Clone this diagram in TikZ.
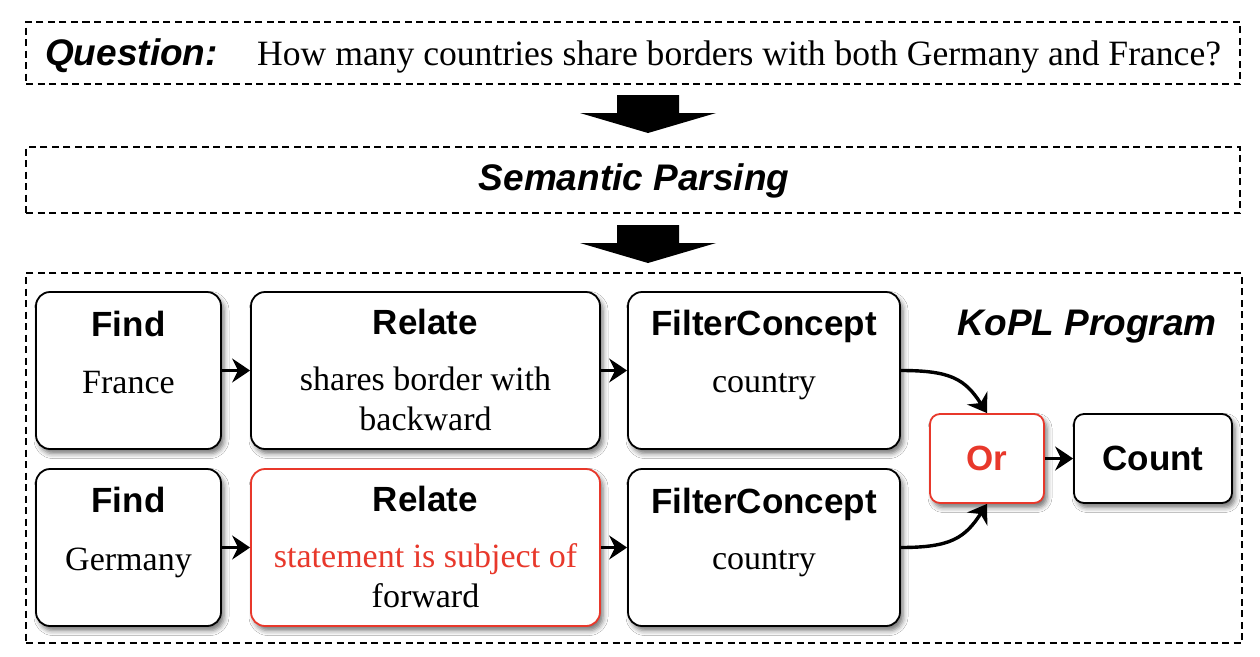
\documentclass[tikz,border=0pt]{standalone}
\usepackage{fontspec}
\setmainfont{Liberation Serif}
\setsansfont{Liberation Sans}
\usetikzlibrary{arrows.meta,shadows.blur,calc}
\definecolor{kred}{RGB}{232,56,43}
\begin{document}
\begin{tikzpicture}[x=1pt,y=-1pt,
  dashbox/.style={draw=black, line width=1.4pt, dash pattern=on 7pt off 4.5pt, inner sep=0pt},
  opbox/.style={draw=black, line width=1.8pt, rounded corners=14pt, fill=white, inner sep=0pt,
    blur shadow={shadow xshift=3pt, shadow yshift=-4.5pt, shadow blur radius=5pt, shadow opacity=55}},
  smallbox/.style={opbox, rounded corners=10pt},
  redline/.style={draw=kred},
  title/.style={font=\sffamily\bfseries\fontsize{35}{40}\selectfont, anchor=base, inner sep=0pt},
  heading/.style={font=\sffamily\bfseries\itshape\fontsize{37}{42}\selectfont, inner sep=0pt},
  arg/.style={font=\fontsize{34}{40}\selectfont, anchor=base, inner sep=0pt},
  qtext/.style={font=\fontsize{35.6}{40}\selectfont, inner sep=0pt},
  flow/.style={-{Stealth[length=18pt,width=24pt,inset=6pt]}, line width=3.4pt},
  blockarrow/.style={fill=black}
]
\useasboundingbox (0,0) rectangle (1260,656);
\fill[white] (0,0) rectangle (1260,656);

% outer dashed frames
\node[dashbox, minimum width=1214pt, minimum height=62pt] (q) at (633,53) {};
\node[dashbox, minimum width=1214pt, minimum height=66pt] (sp) at (633,180) {};
\node[dashbox, minimum width=1216pt, minimum height=370pt] (kopl) at (634,458) {};

\node[heading, anchor=base west] (ql) at (45,65) {Question:};
\node[qtext, anchor=base west] (qt) at (257,65) {How many countries share borders with both Germany and France?};
\node[heading, anchor=base] (spt) at (634,190) {Semantic\ Parsing};
\node[heading, anchor=base east] (kt) at (1217,335) {KoPL Program};

% block arrows
\fill[blockarrow] (617,95) -- (679,95) -- (679,113) -- (716,113) -- (648,133) -- (580,113) -- (617,113) -- cycle;
\fill[blockarrow] (617,225) -- (679,225) -- (679,243) -- (716,243) -- (648,263) -- (580,243) -- (617,243) -- cycle;

% operation boxes
\node[opbox, minimum width=185pt, minimum height=157pt] (find1) at (128.5,370.5) {};
\node[opbox, minimum width=349pt, minimum height=157pt] (rel1) at (425.5,370.5) {};
\node[opbox, minimum width=272pt, minimum height=157pt] (fc1) at (764,370.5) {};
\node[opbox, minimum width=185pt, minimum height=157pt] (find2) at (128.5,547.5) {};
\node[opbox, redline, minimum width=349pt, minimum height=157pt] (rel2) at (425.5,547.5) {};
\node[opbox, minimum width=272pt, minimum height=157pt] (fc2) at (764,547.5) {};
\node[smallbox, redline, minimum width=114pt, minimum height=89pt] (orn) at (987,458.5) {};
\node[smallbox, minimum width=158pt, minimum height=89pt] (cnt) at (1153,458.5) {};

% texts
\node[title] (find1t) at (128.5,336) {Find};
\node[arg] (find1a) at (128.5,393) {France};
\node[title] (rel1t) at (425.5,334) {Relate};
\node[arg] (rel1a) at (425.5,390) {shares border with};
\node[arg] (rel1b) at (425.5,430) {backward};
\node[title] (fc1t) at (764,335) {FilterConcept};
\node[arg] (fc1a) at (764,392) {country};

\node[title] (find2t) at (128.5,512) {Find};
\node[arg] (find2a) at (128.5,570) {Germany};
\node[title] (rel2t) at (425.5,511) {Relate};
\node[arg, text=kred] (rel2a) at (425.5,567) {statement is subject of};
\node[arg] (rel2b) at (425.5,607) {forward};
\node[title] (fc2t) at (764,513) {FilterConcept};
\node[arg] (fc2a) at (764,569) {country};

\node[title, text=kred] (ort) at (987,470) {Or};
\node[title] (cntt) at (1153,470) {Count};

% connectors
\draw[flow] (find1) -- (rel1);
\draw[flow] (rel1) -- (fc1);
\draw[flow] (find2) -- (rel2);
\draw[flow] (rel2) -- (fc2);
\draw[flow] (fc1.east) .. controls +(50,0) and +(-22,-34) .. (orn.north);
\draw[flow] (fc2.east) .. controls +(50,0) and +(-22,34) .. (orn.south);
\draw[flow] (orn) -- (cnt);
\end{tikzpicture}
\end{document}
